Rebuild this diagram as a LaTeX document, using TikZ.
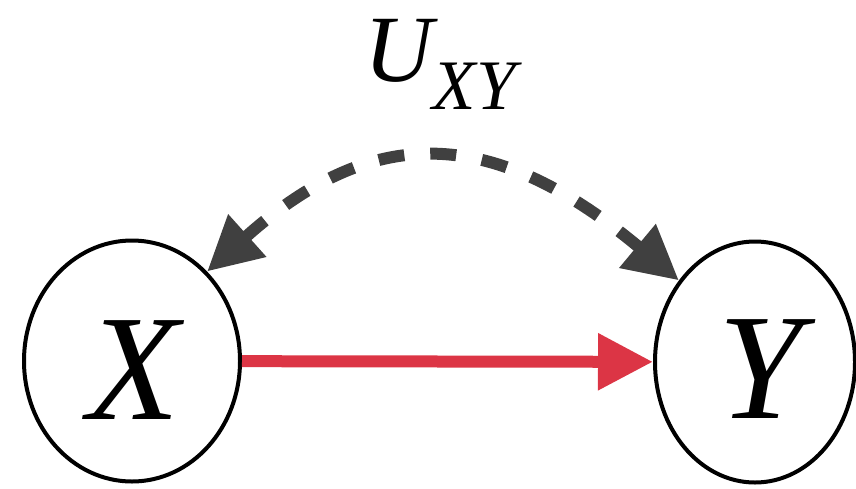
\documentclass[tikz,border=0pt]{standalone}
\usepackage{fontspec}
\setmainfont{Liberation Serif}
\usetikzlibrary{arrows.meta,shapes.geometric}
\definecolor{causered}{RGB}{220,53,69}
\definecolor{confgray}{RGB}{64,64,64}
\tikzset{
  varnode/.style={draw=black, line width=4pt, ellipse, inner sep=0pt},
  letter/.style={inner sep=0pt, font=\fontsize{151}{151}\selectfont\itshape},
  causal/.style={draw=causered, line width=12pt, -{Triangle[length=55pt,width=54pt]}},
  confound/.style={draw=confgray, line width=12pt, dash pattern=on 26pt off 26pt,
     {Triangle[length=54pt,width=54pt]}-{Triangle[length=54pt,width=54pt]}},
}
\begin{document}
\begin{tikzpicture}[x=1pt,y=-1pt]
\useasboundingbox (0,0) rectangle (856,488);
\node[varnode, minimum width=216pt, minimum height=241pt] (X) at (132,361) {};
\node[varnode, minimum width=200pt, minimum height=241pt] (Y) at (755,362) {};
\node[letter, anchor=base] (xl) at (134,419) {X};
\node[letter, anchor=base] (yl) at (760,418) {Y};
\node[inner sep=0pt, anchor=base west] (u) at (364,81)
  {\fontsize{95}{95}\selectfont\itshape U\raisebox{-28pt}{\fontsize{71}{71}\selectfont XY}};
\draw[causal] (X) -- (Y);
\path[confound] (X.50) .. controls (372,124) and (491,124) .. (Y.133);
\end{tikzpicture}
\end{document}
